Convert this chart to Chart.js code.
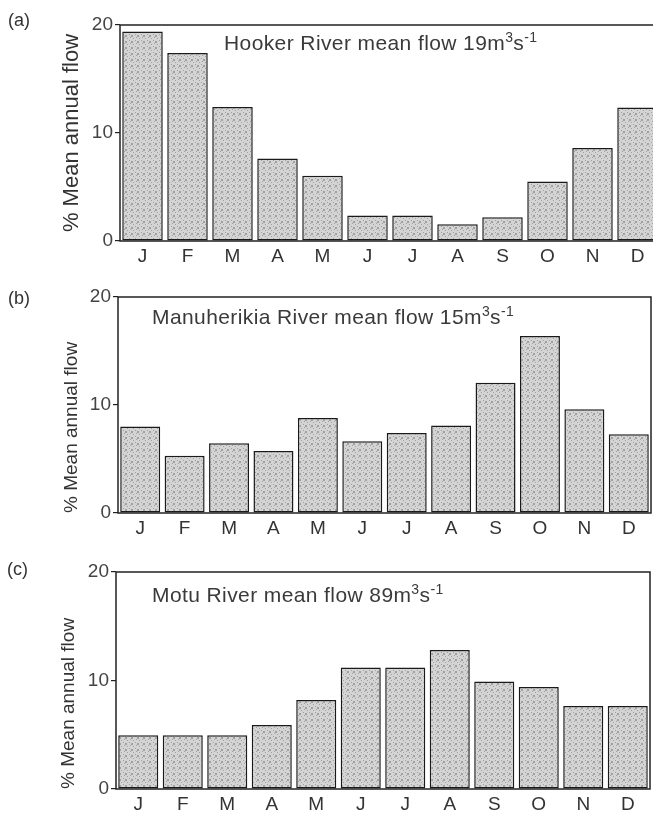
<!DOCTYPE html>
<html>
<head>
<meta charset="utf-8">
<script src="https://cdn.jsdelivr.net/npm/chart.js@4/dist/chart.umd.min.js"></script>
<style>
  body { margin: 0; width: 653px; height: 816px; overflow: hidden; background: #fff; position: relative;
         font-family: "Liberation Sans", Arial, sans-serif; }
  canvas { position: absolute; left: 0; }
  .lab { position: absolute; font-size: 18px; color: #333; line-height: 1; }
  .note { position: absolute; font-size: 21px; letter-spacing: 0.4px; color: #3a3a3a; white-space: nowrap; line-height: 1; }
  .note sup { font-size: 14px; line-height: 0; vertical-align: 8px; }
</style>
</head>
<body>
<canvas id="chartA" width="665" height="270" style="top:0"></canvas>
<canvas id="chartB" width="653" height="270" style="top:270px"></canvas>
<canvas id="chartC" width="653" height="276" style="top:540px"></canvas>

<div class="lab" style="left:8px;top:11px">(a)</div>
<div class="lab" style="left:8px;top:289px">(b)</div>
<div class="lab" style="left:7px;top:560px">(c)</div>

<div class="note" style="left:224px;top:32px">Hooker River mean flow 19m<sup>3</sup>s<sup>-1</sup></div>
<div class="note" style="left:152px;top:306px">Manuherikia River mean flow 15m<sup>3</sup>s<sup>-1</sup></div>
<div class="note" style="left:152px;top:584px">Motu River mean flow 89m<sup>3</sup>s<sup>-1</sup></div>

<script>
// months along the bottom of every panel
const months = ['J', 'F', 'M', 'A', 'M', 'J', 'J', 'A', 'S', 'O', 'N', 'D'];
// % of mean annual flow
const hookerFlow = [19.4, 17.4, 12.4, 7.65, 6.05, 2.35, 2.35, 1.55, 2.2, 5.5, 8.6, 12.35];
const manuherikiaFlow = [8.0, 5.3, 6.45, 5.75, 8.8, 6.65, 7.4, 8.1, 12.05, 16.4, 9.6, 7.3];
const motuFlow = [4.95, 4.95, 4.95, 5.9, 8.2, 11.2, 11.2, 12.8, 9.9, 9.4, 7.65, 7.65];
const yTicks = [0, 10, 20];
const yTitle = '% Mean annual flow';

// grey stipple like the printed bars
function stipple(ctx) {
  const c = document.createElement('canvas');
  c.width = c.height = 6;
  const g = c.getContext('2d');
  g.fillStyle = '#d4d4d4';
  g.fillRect(0, 0, 6, 6);
  g.fillStyle = '#a0a0a0';
  for (let i = 0; i < 6; i++)
    for (let j = 0; j < 6; j++)
      if ((i * 2 + j * 3 + i * j) % 5 === 0) g.fillRect(i, j, 1, 1);
  return ctx.createPattern(c, 'repeat');
}

const boxPlugin = {
  id: 'box',
  beforeDatasetsDraw(chart) {
    const a = chart.chartArea, ctx = chart.ctx;
    ctx.save();
    ctx.strokeStyle = '#222';
    ctx.lineWidth = 1.5;
    ctx.strokeRect(a.left, a.top, a.right - a.left, a.bottom - a.top);
    ctx.restore();
  }
};

function makePanel(id, values, o) {
  const ctx = document.getElementById(id).getContext('2d');
  return new Chart(ctx, {
    type: 'bar',
    data: {
      labels: months,
      datasets: [{
        data: values,
        backgroundColor: stipple(ctx),
        borderColor: '#1a1a1a',
        borderWidth: 1.5,
        borderSkipped: false,
        barPercentage: 0.9,
        categoryPercentage: 1.0
      }]
    },
    options: {
      responsive: false,
      animation: false,
      layout: { padding: { top: o.top, right: o.right, left: 0, bottom: 0 } },
      plugins: { legend: { display: false }, tooltip: { enabled: false } },
      scales: {
        x: {
          grid: { display: false, drawTicks: false, tickLength: 0 },
          border: { display: false },
          ticks: { color: '#333', font: { size: 19, family: 'Liberation Sans' }, padding: 4 },
          afterFit(s) { s.height = o.xh; }
        },
        y: {
          min: 0, max: 20,
          afterBuildTicks(s) { s.ticks = yTicks.map(v => ({ value: v })); },
          grid: { drawOnChartArea: false, drawTicks: true, tickLength: 5, color: '#222', lineWidth: 1.2 },
          border: { display: false },
          ticks: { color: '#444', font: { size: 19, family: 'Liberation Sans' }, padding: 2 },
          title: {
            display: true, text: yTitle, color: '#333', align: o.titleAlign,
            font: { size: o.titleSize, family: 'Liberation Sans' },
            padding: { top: o.titlePad, bottom: 0 }
          },
          afterFit(s) { s.width = o.yw; }
        }
      }
    },
    plugins: [boxPlugin]
  });
}

makePanel('chartA', hookerFlow, { top: 25, right: 5, xh: 29, yw: 120, titleSize: 22, titlePad: 59, titleAlign: 'center' });
makePanel('chartB', manuherikiaFlow, { top: 27, right: 2, xh: 27, yw: 118, titleSize: 19, titlePad: 60, titleAlign: 'start' });
makePanel('chartC', motuFlow, { top: 32, right: 3, xh: 27, yw: 116, titleSize: 19, titlePad: 57, titleAlign: 'start' });
</script>
</body>
</html>
